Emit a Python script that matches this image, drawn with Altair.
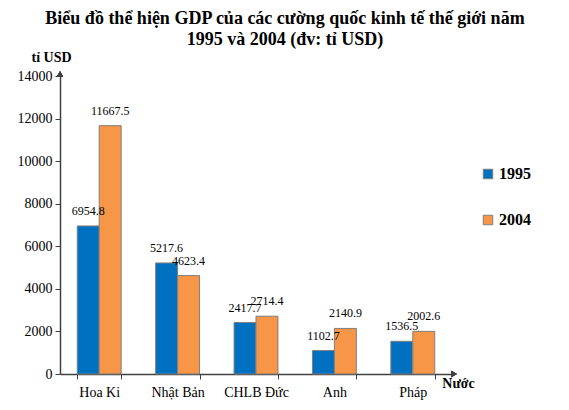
import altair as alt
import pandas as pd

countries = ["Hoa Ki", "Nhật Bản", "CHLB Đức", "Anh", "Pháp"]
years = ["1995", "2004"]
gdp_1995 = [6954.8, 5217.6, 2417.7, 1102.7, 1536.5]
gdp_2004 = [11667.5, 4623.4, 2714.4, 2140.9, 2002.6]
y_ticks = [0, 2000, 4000, 6000, 8000, 10000, 12000, 14000]
colors = ["#0070C0", "#F79646"]

rows = []
for c, a, b in zip(countries, gdp_1995, gdp_2004):
    rows.append({"country": c, "year": "1995", "value": a})
    rows.append({"country": c, "year": "2004", "value": b})
df = pd.DataFrame(rows)

SERIF = "'Liberation Serif', 'Times New Roman', 'DejaVu Serif', serif"

x_enc = alt.X("country:N", sort=countries,
              scale=alt.Scale(paddingInner=0.44, paddingOuter=0.22),
              axis=alt.Axis(title="Nước", titleFont=SERIF, titleFontSize=14, titleFontWeight="bold",
                            titleX=398, titleY=9, titleBaseline="middle", titleAlign="center",
                            labelFont=SERIF, labelFontSize=14, labelColor="black", labelAngle=0,
                            labelPadding=6, tickBand="extent", tickSize=5, tickColor="#404040",
                            domainColor="#404040", domainWidth=1.5, grid=False))
y_enc = alt.Y("value:Q", scale=alt.Scale(domain=[0, 14000], nice=False),
              axis=alt.Axis(values=y_ticks, format="d", title="tỉ USD", titleFont=SERIF, titleFontSize=14,
                            titleFontWeight="bold", titleAngle=0, titleX=-9, titleY=-19,
                            titleAlign="center", titleBaseline="middle",
                            labelFont=SERIF, labelFontSize=14, labelColor="black", labelPadding=3,
                            tickSize=5, tickColor="#404040", domainColor="#404040", domainWidth=1.5,
                            grid=False))

bars = alt.Chart(df).mark_bar(stroke="#7f7f7f", strokeWidth=1).encode(
    x=x_enc,
    xOffset=alt.XOffset("year:N", sort=years),
    y=y_enc,
    color=alt.Color("year:N", sort=years, scale=alt.Scale(domain=years, range=colors),
                    legend=alt.Legend(title=None, orient="none", legendX=420, legendY=90,
                                      symbolType="square", symbolSize=90, symbolStrokeColor="#7f7f7f",
                                      symbolStrokeWidth=1, labelFont=SERIF, labelFontSize=16,
                                      labelFontWeight="bold", labelColor="black", rowPadding=30,
                                      labelOffset=3)),
)

labels = alt.Chart(df).mark_text(font=SERIF, fontSize=12, baseline="bottom", dy=-8, color="black").encode(
    x=alt.X("country:N", sort=countries),
    xOffset=alt.XOffset("year:N", sort=years),
    y="value:Q",
    text=alt.Text("value:Q", format=".1f"),
)

arrow_y = alt.Chart(df).mark_point(shape="triangle-up", filled=True, color="#404040", size=40).encode(
    x=alt.value(0), y=alt.value(-2))
arrow_x = alt.Chart(df).mark_point(shape="triangle-right", filled=True, color="#404040", size=40).encode(
    x=alt.value(394), y=alt.value(298))

chart = alt.layer(bars, labels, arrow_y, arrow_x).properties(
    width=392, height=298,
    title=alt.TitleParams(
        text=["Biểu đồ thể hiện GDP của các cường quốc kinh tế thế giới năm",
              "1995 và 2004 (đv: tỉ USD)"],
        font=SERIF, fontSize=18, fontWeight="bold", color="black", anchor="middle",
        dx=29, lineHeight=21, offset=1),
    autosize=alt.AutoSizeParams(type="none"),
    padding={"left": 52, "top": 68, "right": 109, "bottom": 28},
).configure_view(stroke=None)

chart.save("out.html", embed_options={"renderer": "svg", "actions": False})
